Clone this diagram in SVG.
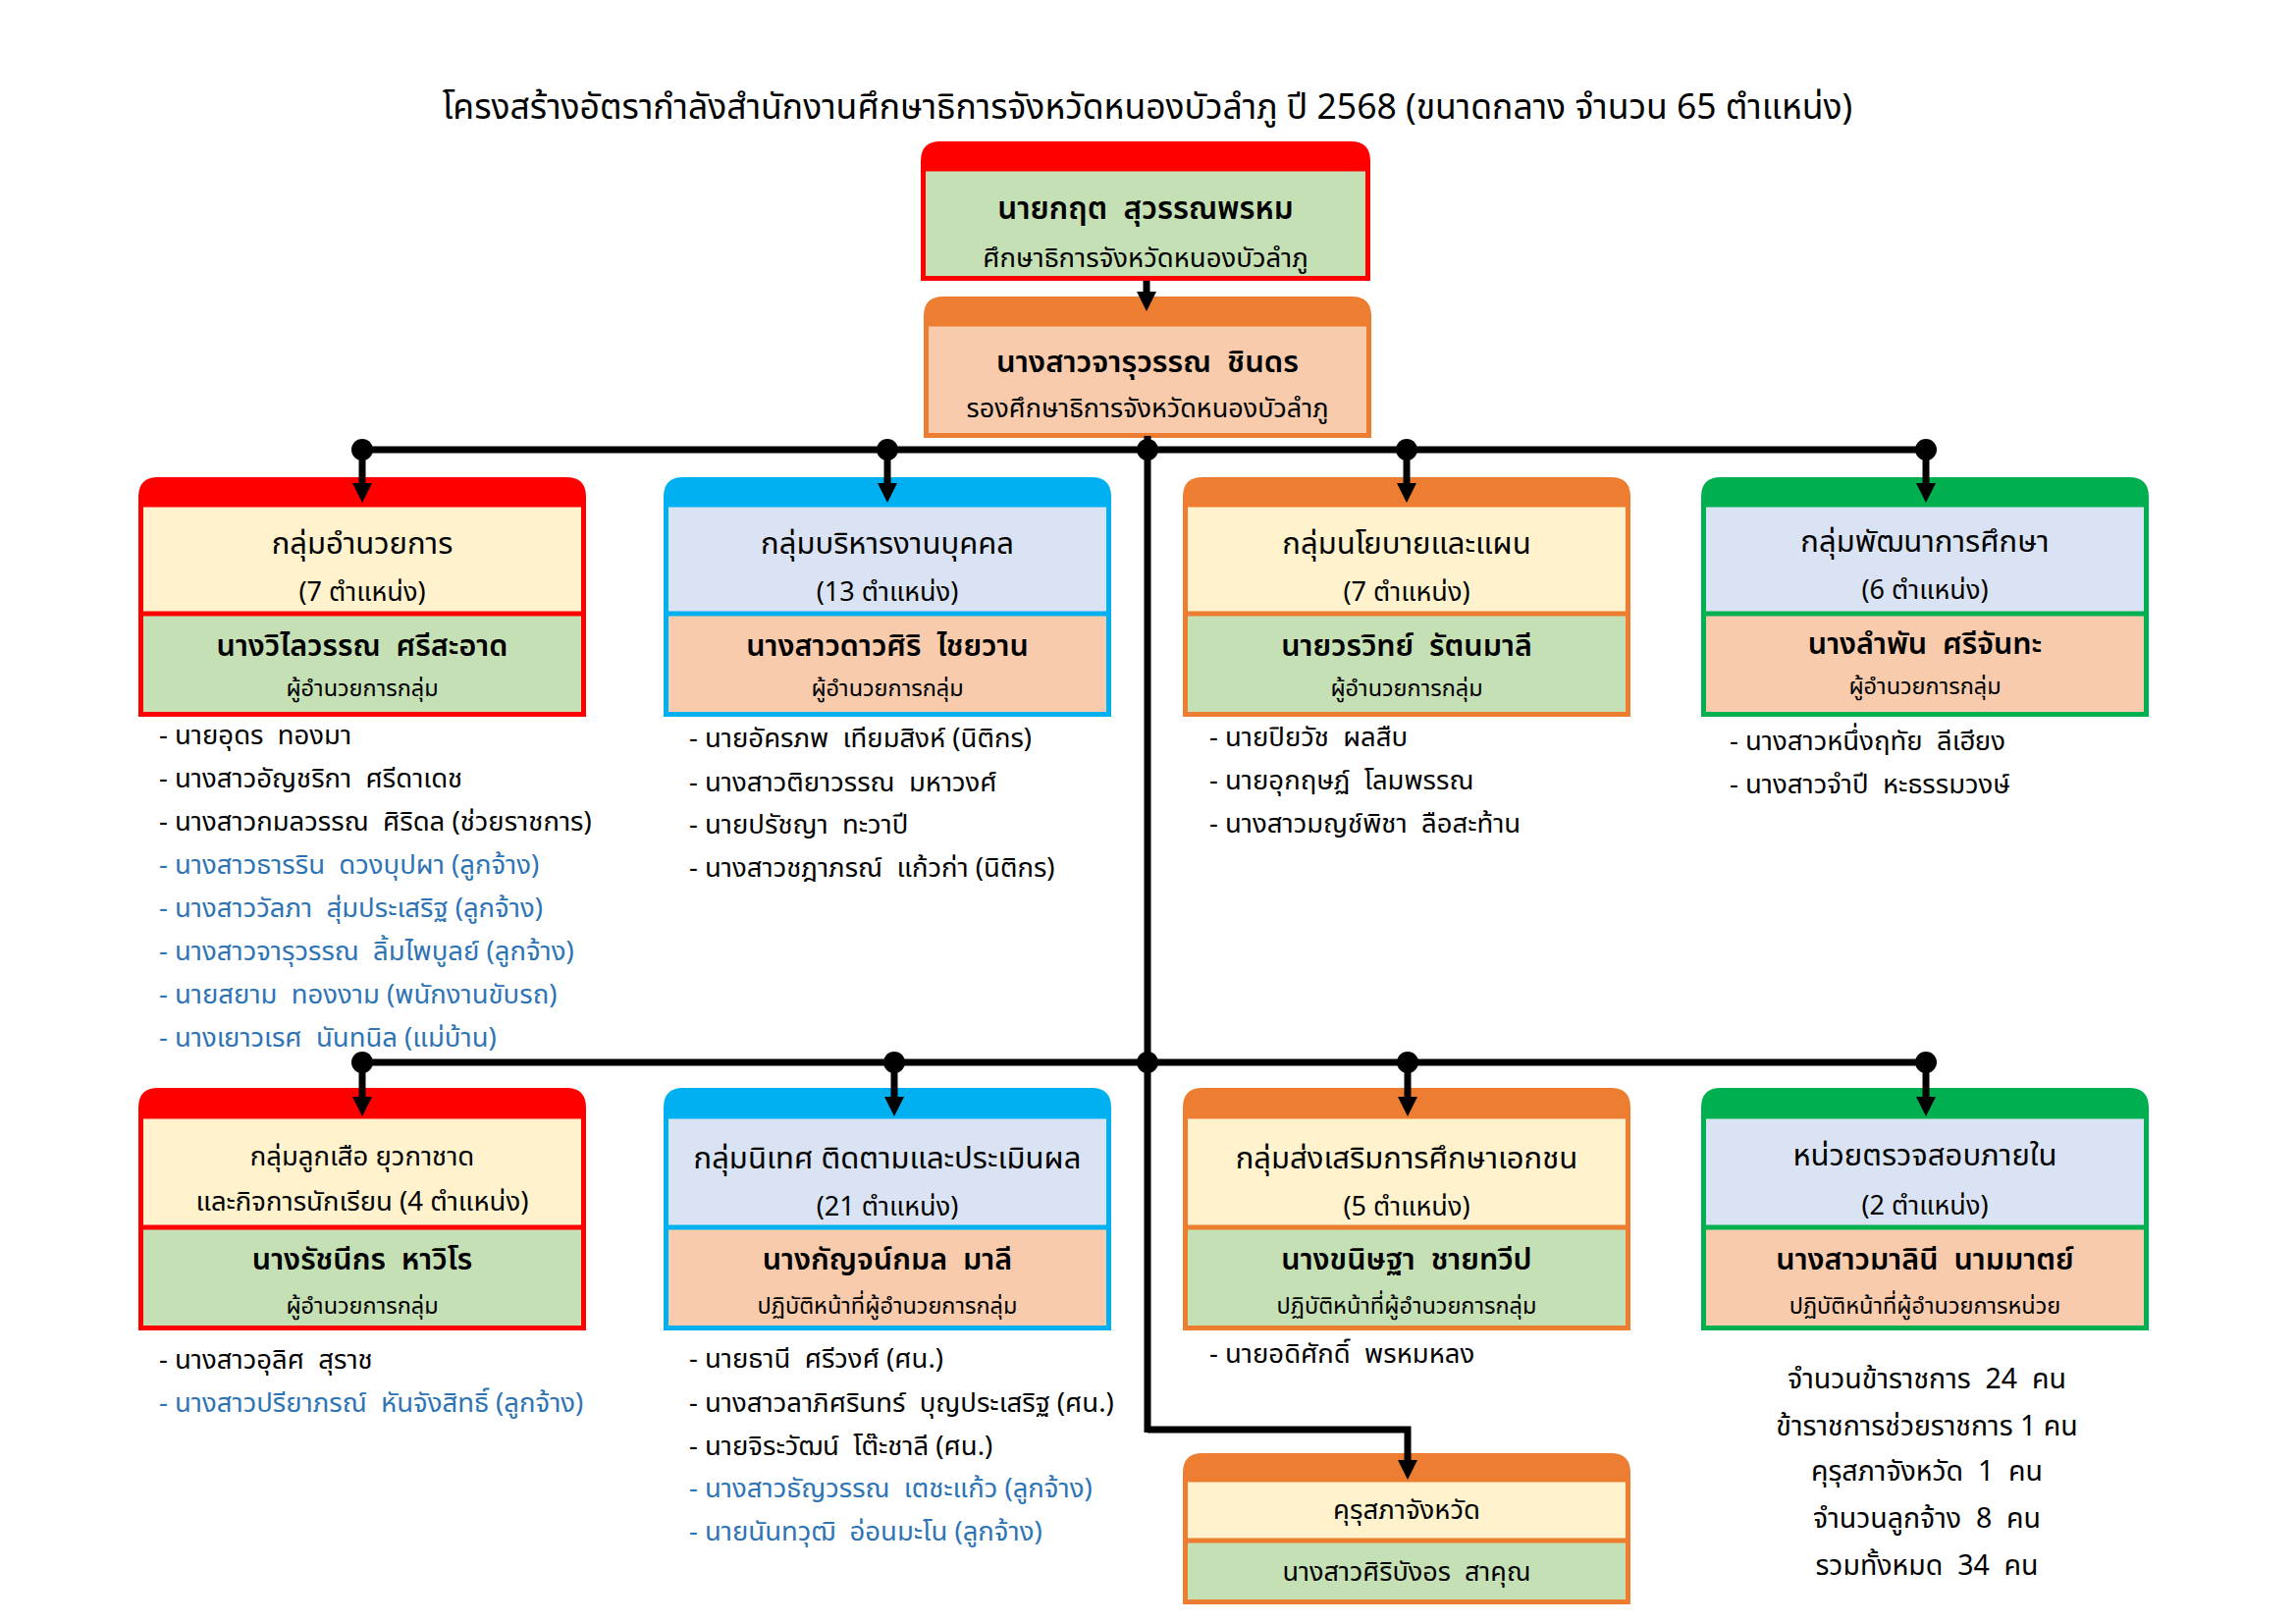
<svg xmlns="http://www.w3.org/2000/svg" width="2339" height="1654" viewBox="0 0 2339 1654">
<defs>
<style>
text{font-family:"Noto Sans Thai","Noto Sans","DejaVu Sans",sans-serif;fill:#000;white-space:pre}
.title{font-size:35.5px;text-anchor:middle}
.gt{font-size:31px;text-anchor:middle}
.cnt{font-size:27px;text-anchor:middle}
.nm{font-size:30.5px;font-weight:600;text-anchor:middle}
.rl{font-size:23.5px;text-anchor:middle}
.li{font-size:27.5px}
.blue{fill:#2E74B5}
.sum{font-size:28.5px;text-anchor:middle}
.ln{stroke:#000;stroke-width:7;fill:none}
.dot{fill:#000}
.red .hd{fill:#FF0000}.red .fr{stroke:#FF0000}
.cyan .hd{fill:#00B0F0}.cyan .fr{stroke:#00B0F0}
.org .hd{fill:#ED7D31}.org .fr{stroke:#ED7D31}
.grn .hd{fill:#00B050}.grn .fr{stroke:#00B050}
.cream{fill:#FFF2CC}.lblue{fill:#DAE3F3}.lgreen{fill:#C5E0B4}.peach{fill:#F8CBAD}
.fr{fill:none;stroke-width:5}
</style>
<marker id="arr" viewBox="0 0 10 10" refX="4" refY="5" markerWidth="20" markerHeight="20" markerUnits="userSpaceOnUse" orient="auto">
<path d="M0,0 L10,5 L0,10 z" fill="#000"/>
</marker>
</defs>
<rect width="2339" height="1654" fill="#fff"/>

<text id="title" class="title" x="1169" y="121">โครงสร้างอัตรากำลังสำนักงานศึกษาธิการจังหวัดหนองบัวลำภู ปี 2568 (ขนาดกลาง จำนวน 65 ตำแหน่ง)</text>

<!-- director -->
<g id="director" class="red">
<path class="hd" d="M938,174 V164 Q938,144 958,144 H1376 Q1396,144 1396,164 V174 Z"/>
<rect class="lgreen" x="940.5" y="172" width="453" height="111.5"/>
<rect class="fr" x="940.5" y="172" width="453" height="111.5"/>
<text class="nm" x="1167" y="223" style="font-size:31.5px">นายกฤต  สุวรรณพรหม</text>
<text class="rl" x="1167" y="272" style="font-size:27.5px">ศึกษาธิการจังหวัดหนองบัวลำภู</text>
</g>

<!-- deputy -->
<g id="deputy" class="org">
<path class="hd" d="M941,332 V322 Q941,302 961,302 H1377 Q1397,302 1397,322 V332 Z"/>
<rect class="peach" x="943.5" y="330" width="451" height="113.5"/>
<rect class="fr" x="943.5" y="330" width="451" height="113.5"/>
<text class="nm" x="1169" y="379" style="font-size:31px">นางสาวจารุวรรณ  ชินดร</text>
<text class="rl" x="1169" y="425" style="font-size:27px">รองศึกษาธิการจังหวัดหนองบัวลำภู</text>
</g>

<!-- row 1 -->
<g id="g-admin" class="red">
<path class="hd" d="M141,516 V506 Q141,486 161,486 H577 Q597,486 597,506 V516 Z"/>
<rect class="cream" x="143.5" y="514" width="451" height="111"/>
<rect class="lgreen" x="143.5" y="625" width="451" height="102.5"/>
<rect class="fr" x="143.5" y="514" width="451" height="213.5"/>
<line class="fr" x1="143.5" y1="625" x2="594.5" y2="625"/>
<text class="gt" x="369" y="564">กลุ่มอำนวยการ</text>
<text class="cnt" x="369" y="612">(7 ตำแหน่ง)</text>
<text class="nm" x="369" y="668">นางวิไลวรรณ  ศรีสะอาด</text>
<text class="rl" x="369" y="709">ผู้อำนวยการกลุ่ม</text>
<text class="li" x="162" y="758">- นายอุดร  ทองมา</text>
<text class="li" x="162" y="802">- นางสาวอัญชริกา  ศรีดาเดช</text>
<text class="li" x="162" y="846">- นางสาวกมลวรรณ  ศิริดล (ช่วยราชการ)</text>
<text class="li blue" x="162" y="890">- นางสาวธารริน  ดวงบุปผา (ลูกจ้าง)</text>
<text class="li blue" x="162" y="934">- นางสาววัลภา  สุ่มประเสริฐ (ลูกจ้าง)</text>
<text class="li blue" x="162" y="978">- นางสาวจารุวรรณ  ลิ้มไพบูลย์ (ลูกจ้าง)</text>
<text class="li blue" x="162" y="1022">- นายสยาม  ทองงาม (พนักงานขับรถ)</text>
<text class="li blue" x="162" y="1066">- นางเยาวเรศ  นันทนิล (แม่บ้าน)</text>
</g>

<g id="g-personnel" class="cyan">
<path class="hd" d="M676,516 V506 Q676,486 696,486 H1112 Q1132,486 1132,506 V516 Z"/>
<rect class="lblue" x="678.5" y="514" width="451" height="111"/>
<rect class="peach" x="678.5" y="625" width="451" height="102.5"/>
<rect class="fr" x="678.5" y="514" width="451" height="213.5"/>
<line class="fr" x1="678.5" y1="625" x2="1129.5" y2="625"/>
<text class="gt" x="904" y="564">กลุ่มบริหารงานบุคคล</text>
<text class="cnt" x="904" y="612">(13 ตำแหน่ง)</text>
<text class="nm" x="904" y="668">นางสาวดาวศิริ  ไชยวาน</text>
<text class="rl" x="904" y="709">ผู้อำนวยการกลุ่ม</text>
<text class="li" x="702" y="761">- นายอัครภพ  เทียมสิงห์ (นิติกร)</text>
<text class="li" x="702" y="806">- นางสาวติยาวรรณ  มหาวงศ์</text>
<text class="li" x="702" y="849">- นายปรัชญา  ทะวาปี</text>
<text class="li" x="702" y="893">- นางสาวชฎาภรณ์  แก้วก่า (นิติกร)</text>
</g>

<g id="g-policy" class="org">
<path class="hd" d="M1205,516 V506 Q1205,486 1225,486 H1641 Q1661,486 1661,506 V516 Z"/>
<rect class="cream" x="1207.5" y="514" width="451" height="111"/>
<rect class="lgreen" x="1207.5" y="625" width="451" height="102.5"/>
<rect class="fr" x="1207.5" y="514" width="451" height="213.5"/>
<line class="fr" x1="1207.5" y1="625" x2="1658.5" y2="625"/>
<text class="gt" x="1433" y="564">กลุ่มนโยบายและแผน</text>
<text class="cnt" x="1433" y="612">(7 ตำแหน่ง)</text>
<text class="nm" x="1433" y="668">นายวรวิทย์  รัตนมาลี</text>
<text class="rl" x="1433" y="709">ผู้อำนวยการกลุ่ม</text>
<text class="li" x="1232" y="760">- นายปิยวัช  ผลสืบ</text>
<text class="li" x="1232" y="804">- นายอุกฤษฏ์  โลมพรรณ</text>
<text class="li" x="1232" y="848">- นางสาวมญช์พิชา  ลือสะท้าน</text>
</g>

<g id="g-development" class="grn">
<path class="hd" d="M1733,516 V506 Q1733,486 1753,486 H2169 Q2189,486 2189,506 V516 Z"/>
<rect class="lblue" x="1735.5" y="514" width="451" height="111"/>
<rect class="peach" x="1735.5" y="625" width="451" height="102.5"/>
<rect class="fr" x="1735.5" y="514" width="451" height="213.5"/>
<line class="fr" x1="1735.5" y1="625" x2="2186.5" y2="625"/>
<text class="gt" x="1961" y="562">กลุ่มพัฒนาการศึกษา</text>
<text class="cnt" x="1961" y="610">(6 ตำแหน่ง)</text>
<text class="nm" x="1961" y="666">นางลำพัน  ศรีจันทะ</text>
<text class="rl" x="1961" y="707">ผู้อำนวยการกลุ่ม</text>
<text class="li" x="1762" y="764">- นางสาวหนึ่งฤทัย  ลีเฮียง</text>
<text class="li" x="1762" y="808">- นางสาวจำปี  หะธรรมวงษ์</text>
</g>

<!-- row 2 -->
<g id="g-scout" class="red">
<path class="hd" d="M141,1139 V1128 Q141,1108 161,1108 H577 Q597,1108 597,1128 V1139 Z"/>
<rect class="cream" x="143.5" y="1137" width="451" height="113"/>
<rect class="lgreen" x="143.5" y="1250" width="451" height="102.5"/>
<rect class="fr" x="143.5" y="1137" width="451" height="215.5"/>
<line class="fr" x1="143.5" y1="1250" x2="594.5" y2="1250"/>
<text class="cnt" x="369" y="1187" style="font-size:27.5px">กลุ่มลูกเสือ ยุวกาชาด</text>
<text class="cnt" x="369" y="1233" style="font-size:27.5px">และกิจการนักเรียน (4 ตำแหน่ง)</text>
<text class="nm" x="369" y="1293">นางรัชนีกร  หาวิโร</text>
<text class="rl" x="369" y="1338">ผู้อำนวยการกลุ่ม</text>
<text class="li" x="162" y="1394">- นางสาวอุลิศ  สุราช</text>
<text class="li blue" x="162" y="1438">- นางสาวปรียาภรณ์  หันจังสิทธิ์ (ลูกจ้าง)</text>
</g>

<g id="g-supervision" class="cyan">
<path class="hd" d="M676,1139 V1128 Q676,1108 696,1108 H1112 Q1132,1108 1132,1128 V1139 Z"/>
<rect class="lblue" x="678.5" y="1137" width="451" height="113"/>
<rect class="peach" x="678.5" y="1250" width="451" height="102.5"/>
<rect class="fr" x="678.5" y="1137" width="451" height="215.5"/>
<line class="fr" x1="678.5" y1="1250" x2="1129.5" y2="1250"/>
<text class="gt" x="904" y="1190">กลุ่มนิเทศ ติดตามและประเมินผล</text>
<text class="cnt" x="904" y="1238">(21 ตำแหน่ง)</text>
<text class="nm" x="904" y="1293">นางกัญจน์กมล  มาลี</text>
<text class="rl" x="904" y="1338">ปฏิบัติหน้าที่ผู้อำนวยการกลุ่ม</text>
<text class="li" x="702" y="1393">- นายธานี  ศรีวงศ์ (ศน.)</text>
<text class="li" x="702" y="1438">- นางสาวลาภิศรินทร์  บุญประเสริฐ (ศน.)</text>
<text class="li" x="702" y="1482">- นายจิระวัฒน์  โต๊ะชาลี (ศน.)</text>
<text class="li blue" x="702" y="1525">- นางสาวธัญวรรณ  เตชะแก้ว (ลูกจ้าง)</text>
<text class="li blue" x="702" y="1569">- นายนันทวุฒิ  อ่อนมะโน (ลูกจ้าง)</text>
</g>

<g id="g-private" class="org">
<path class="hd" d="M1205,1139 V1128 Q1205,1108 1225,1108 H1641 Q1661,1108 1661,1128 V1139 Z"/>
<rect class="cream" x="1207.5" y="1137" width="451" height="113"/>
<rect class="lgreen" x="1207.5" y="1250" width="451" height="102.5"/>
<rect class="fr" x="1207.5" y="1137" width="451" height="215.5"/>
<line class="fr" x1="1207.5" y1="1250" x2="1658.5" y2="1250"/>
<text class="gt" x="1433" y="1190">กลุ่มส่งเสริมการศึกษาเอกชน</text>
<text class="cnt" x="1433" y="1238">(5 ตำแหน่ง)</text>
<text class="nm" x="1433" y="1293">นางขนิษฐา  ชายทวีป</text>
<text class="rl" x="1433" y="1338">ปฏิบัติหน้าที่ผู้อำนวยการกลุ่ม</text>
<text class="li" x="1232" y="1388">- นายอดิศักดิ์  พรหมหลง</text>
</g>

<g id="g-audit" class="grn">
<path class="hd" d="M1733,1139 V1128 Q1733,1108 1753,1108 H2169 Q2189,1108 2189,1128 V1139 Z"/>
<rect class="lblue" x="1735.5" y="1137" width="451" height="113"/>
<rect class="peach" x="1735.5" y="1250" width="451" height="102.5"/>
<rect class="fr" x="1735.5" y="1137" width="451" height="215.5"/>
<line class="fr" x1="1735.5" y1="1250" x2="2186.5" y2="1250"/>
<text class="gt" x="1961" y="1187">หน่วยตรวจสอบภายใน</text>
<text class="cnt" x="1961" y="1237">(2 ตำแหน่ง)</text>
<text class="nm" x="1961" y="1293">นางสาวมาลินี  นามมาตย์</text>
<text class="rl" x="1961" y="1338">ปฏิบัติหน้าที่ผู้อำนวยการหน่วย</text>
</g>

<g id="g-kurusapa" class="org">
<path class="hd" d="M1205,1509 V1500 Q1205,1480 1225,1480 H1641 Q1661,1480 1661,1500 V1509 Z"/>
<rect class="cream" x="1207.5" y="1507" width="451" height="62"/>
<rect class="lgreen" x="1207.5" y="1569" width="451" height="62.5"/>
<rect class="fr" x="1207.5" y="1507" width="451" height="124.5"/>
<line class="fr" x1="1207.5" y1="1569" x2="1658.5" y2="1569"/>
<text class="cnt" x="1433" y="1547" style="font-size:27.5px">คุรุสภาจังหวัด</text>
<text class="cnt" x="1433" y="1610">นางสาวศิริบังอร  สาคุณ</text>
</g>

<g id="summary">
<text class="sum" x="1963" y="1414">จำนวนข้าราชการ  24  คน</text>
<text class="sum" x="1963" y="1462">ข้าราชการช่วยราชการ 1 คน</text>
<text class="sum" x="1963" y="1508">คุรุสภาจังหวัด  1  คน</text>
<text class="sum" x="1963" y="1556">จำนวนลูกจ้าง  8  คน</text>
<text class="sum" x="1963" y="1604">รวมทั้งหมด  34  คน</text>
</g>

<!-- connectors -->
<g id="connectors">
<line class="ln" x1="1168" y1="286" x2="1168" y2="305" marker-end="url(#arr)"/>
<line class="ln" x1="1169" y1="444" x2="1169" y2="1459"/>
<line class="ln" x1="369" y1="458" x2="1962" y2="458"/>
<line class="ln" x1="369" y1="1082" x2="1962" y2="1082"/>
<polyline class="ln" points="1169,1456 1434,1456 1434,1495" marker-end="url(#arr)"/>
<line class="ln" x1="369" y1="458" x2="369" y2="500" marker-end="url(#arr)"/>
<line class="ln" x1="904" y1="458" x2="904" y2="500" marker-end="url(#arr)"/>
<line class="ln" x1="1433" y1="458" x2="1433" y2="500" marker-end="url(#arr)"/>
<line class="ln" x1="1962" y1="458" x2="1962" y2="500" marker-end="url(#arr)"/>
<line class="ln" x1="369" y1="1082" x2="369" y2="1125" marker-end="url(#arr)"/>
<line class="ln" x1="911" y1="1082" x2="911" y2="1125" marker-end="url(#arr)"/>
<line class="ln" x1="1434" y1="1082" x2="1434" y2="1125" marker-end="url(#arr)"/>
<line class="ln" x1="1962" y1="1082" x2="1962" y2="1125" marker-end="url(#arr)"/>
<circle class="dot" cx="369" cy="458" r="11"/>
<circle class="dot" cx="904" cy="458" r="11"/>
<circle class="dot" cx="1169" cy="458" r="11"/>
<circle class="dot" cx="1433" cy="458" r="11"/>
<circle class="dot" cx="1962" cy="458" r="11"/>
<circle class="dot" cx="369" cy="1082" r="11"/>
<circle class="dot" cx="911" cy="1082" r="11"/>
<circle class="dot" cx="1169" cy="1082" r="11"/>
<circle class="dot" cx="1434" cy="1082" r="11"/>
<circle class="dot" cx="1962" cy="1082" r="11"/>
</g>
</svg>
